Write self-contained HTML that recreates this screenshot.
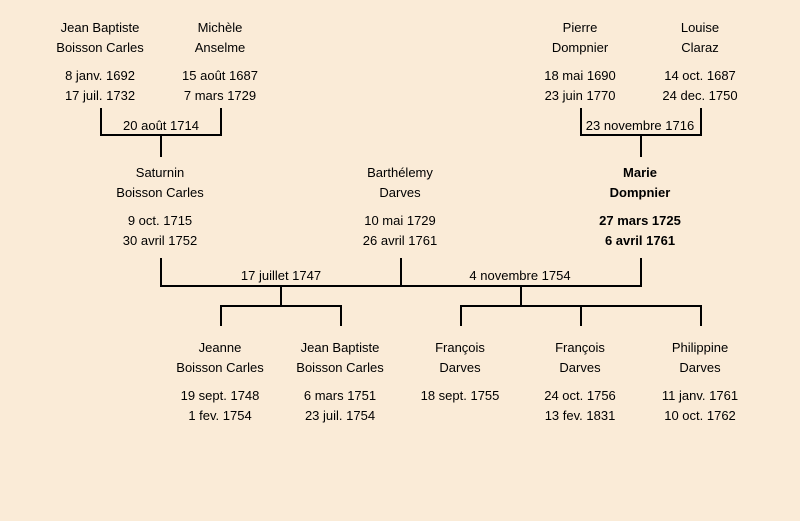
<!DOCTYPE html>
<html><head><meta charset="utf-8"><style>
html,body{margin:0;padding:0;background:#faebd7;}
svg{display:block}
text{font-family:"Liberation Sans",sans-serif;font-size:13px;fill:#000;text-anchor:middle;}
.b{font-weight:bold}
</style></head><body>
<svg width="800" height="521" viewBox="0 0 800 521">
<rect width="800" height="521" fill="#faebd7"/>
<g stroke="#000" stroke-width="2" fill="none">
<path d="M101 108V135H221V108M161 135V157"/>
<path d="M581 108V135H701V108M641 135V157"/>
<path d="M161 258V286H641V258M401 258V286"/>
<path d="M281 286V306M221 326V306H341V326"/>
<path d="M521 286V306M461 326V306H701V326M581 306V326"/>
</g>
<g>
<text x="100" y="32">Jean Baptiste</text><text x="100" y="52">Boisson Carles</text>
<text x="100" y="80">8 janv. 1692</text><text x="100" y="100">17 juil. 1732</text>
<text x="220" y="32">Michèle</text><text x="220" y="52">Anselme</text>
<text x="220" y="80">15 août 1687</text><text x="220" y="100">7 mars 1729</text>
<text x="580" y="32">Pierre</text><text x="580" y="52">Dompnier</text>
<text x="580" y="80">18 mai 1690</text><text x="580" y="100">23 juin 1770</text>
<text x="700" y="32">Louise</text><text x="700" y="52">Claraz</text>
<text x="700" y="80">14 oct. 1687</text><text x="700" y="100">24 dec. 1750</text>
<text x="161" y="130">20 août 1714</text>
<text x="640" y="130">23 novembre 1716</text>
<text x="160" y="177">Saturnin</text><text x="160" y="197">Boisson Carles</text>
<text x="160" y="225">9 oct. 1715</text><text x="160" y="245">30 avril 1752</text>
<text x="400" y="177">Barthélemy</text><text x="400" y="197">Darves</text>
<text x="400" y="225">10 mai 1729</text><text x="400" y="245">26 avril 1761</text>
<text class="b" x="640" y="177">Marie</text><text class="b" x="640" y="197">Dompnier</text>
<text class="b" x="640" y="225">27 mars 1725</text><text class="b" x="640" y="245">6 avril 1761</text>
<text x="281" y="280">17 juillet 1747</text>
<text x="520" y="280">4 novembre 1754</text>
<text x="220" y="352">Jeanne</text><text x="220" y="372">Boisson Carles</text>
<text x="220" y="400">19 sept. 1748</text><text x="220" y="420">1 fev. 1754</text>
<text x="340" y="352">Jean Baptiste</text><text x="340" y="372">Boisson Carles</text>
<text x="340" y="400">6 mars 1751</text><text x="340" y="420">23 juil. 1754</text>
<text x="460" y="352">François</text><text x="460" y="372">Darves</text>
<text x="460" y="400">18 sept. 1755</text>
<text x="580" y="352">François</text><text x="580" y="372">Darves</text>
<text x="580" y="400">24 oct. 1756</text><text x="580" y="420">13 fev. 1831</text>
<text x="700" y="352">Philippine</text><text x="700" y="372">Darves</text>
<text x="700" y="400">11 janv. 1761</text><text x="700" y="420">10 oct. 1762</text>
</g>
</svg>
</body></html>
